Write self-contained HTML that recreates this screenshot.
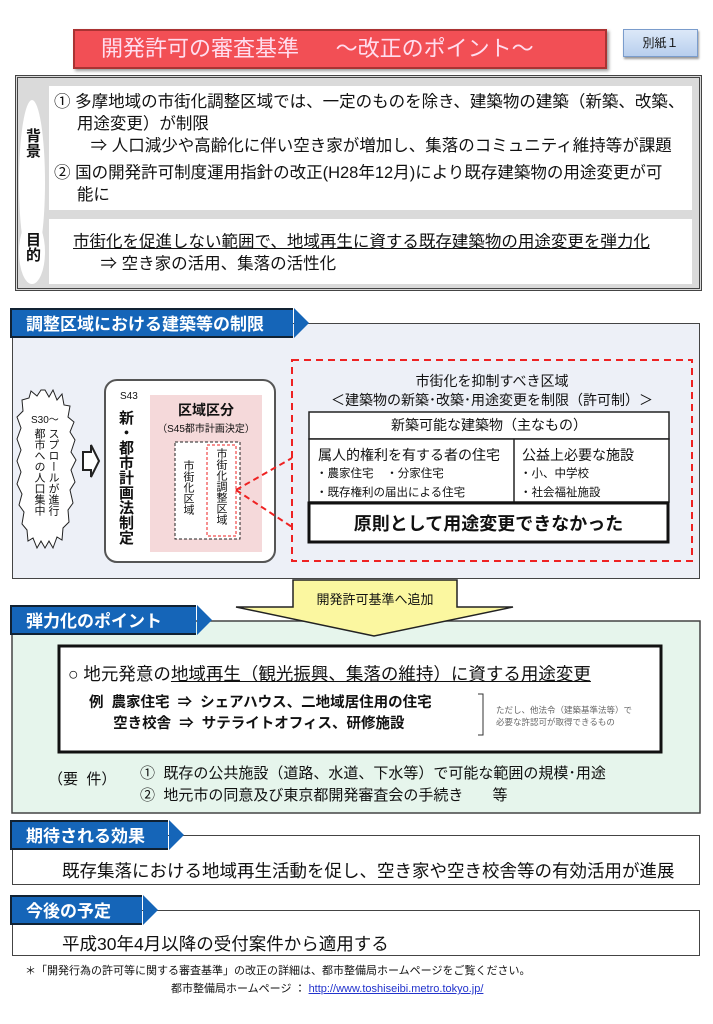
<!DOCTYPE html>
<html><head><meta charset="utf-8"><style>
*{margin:0;padding:0;box-sizing:border-box}
body{width:713px;height:1024px;background:#fff;position:relative;overflow:hidden;font-family:"Liberation Sans","Noto Sans CJK JP",sans-serif;color:#111}
.a{position:absolute;white-space:nowrap}
.v{writing-mode:vertical-rl;text-orientation:upright;white-space:normal}
.tab{position:absolute;left:10px;height:30px;background:#1565b8;color:#fff;font-weight:bold;font-size:17px;line-height:30px;padding-left:14px;border:2px solid #123;border-right:none}
.tab:after{content:"";position:absolute;right:-16px;top:-2px;border-left:15px solid #1565b8;border-top:15px solid transparent;border-bottom:15px solid transparent}
.box{position:absolute;left:12px;width:688px;border:1.5px solid #444}
</style></head><body>
<div class="a" style="left:73px;top:29px;width:534px;height:40px;background:#f24f55;border:2px solid #a33;box-shadow:2px 2px 3px #999;color:#fde;font-size:22px;line-height:36px;padding-left:26px">開発許可の審査基準&nbsp;&nbsp;&nbsp;&nbsp;&nbsp;&nbsp;〜改正のポイント〜</div>
<div class="a" style="left:623px;top:29px;width:75px;height:28px;background:linear-gradient(#dce8f8,#b8cfee);border:1px solid #7a9ccc;box-shadow:1px 2px 2px #999;font-size:12px;line-height:26px;text-align:center">別紙１</div>

<div class="a" style="left:15px;top:75px;width:687px;height:216px;background:#dadada;border:3px double #444"></div>
<div class="a" style="left:49px;top:86px;width:643px;height:124px;background:#fff"></div>
<div class="a" style="left:49px;top:219px;width:643px;height:65px;background:#fff"></div>
<div class="a" style="left:19px;top:100px;width:26px;height:165px;background:#fff;border-radius:50%"></div>
<div class="a" style="left:19px;top:220px;width:26px;height:64px;background:#fff;border-radius:50%"></div>
<div class="a v" style="left:22px;top:128px;font-size:15px;font-weight:bold">背景</div>
<div class="a v" style="left:22px;top:232px;font-size:15px;font-weight:bold">目的</div>
<div class="a" style="left:54px;top:91px;font-size:16.5px;line-height:22px">① 多摩地域の市街化調整区域では、一定のものを除き、建築物の建築（新築、改築、<br>&nbsp;&nbsp;&nbsp;&nbsp;&nbsp;用途変更）が制限<br>&nbsp;&nbsp;&nbsp;&nbsp;&nbsp;&nbsp;&nbsp;&nbsp;⇒ 人口減少や高齢化に伴い空き家が増加し、集落のコミュニティ維持等が課題</div>
<div class="a" style="left:54px;top:162px;font-size:16.5px;line-height:22px">② 国の開発許可制度運用指針の改正(H28年12月)により既存建築物の用途変更が可<br>&nbsp;&nbsp;&nbsp;&nbsp;&nbsp;能に</div>
<div class="a" style="left:73px;top:231px;font-size:16.5px;line-height:22px"><u>市街化を促進しない範囲で、地域再生に資する既存建築物の用途変更を弾力化</u><br>&nbsp;&nbsp;&nbsp;&nbsp;&nbsp;&nbsp;⇒ 空き家の活用、集落の活性化</div>

<div class="box" style="top:323px;height:256px;background:#edf0f7"></div>
<div class="tab" style="top:308px;width:283px">調整区域における建築等の制限</div>
<svg class="a" style="left:0;top:0" width="713" height="1024">
<path d="M45,390 L49,397 L53,390 L57,400 L62,394 L64,405 L70,406 L68,417 L74,422 L70,432 L75,440 L71,452 L76,460 L71,470 L75,482 L70,490 L73,503 L68,510 L69,522 L63,528 L62,540 L57,537 L53,548 L49,541 L45,548 L41,541 L37,548 L33,538 L28,541 L27,530 L22,524 L24,512 L19,505 L22,494 L17,484 L21,472 L17,461 L21,450 L17,439 L21,428 L17,417 L23,411 L22,400 L29,398 L31,391 L37,396 L41,390 Z" fill="#fff" stroke="#222" stroke-width="1"/>
<path d="M83,452 L91,452 L91,445 L99,461 L91,477 L91,470 L83,470 Z" fill="#fff" stroke="#222" stroke-width="2"/>
<rect x="105" y="380" width="170" height="182" rx="12" fill="#fff" stroke="#555" stroke-width="2"/>
<rect x="150" y="395" width="112" height="157" fill="#f5d9da"/>
<rect x="175" y="442" width="65" height="97" fill="#fff" stroke="#222" stroke-dasharray="3,2"/>
<rect x="207" y="445" width="29" height="91" fill="#fff" stroke="#e22" stroke-dasharray="3,2"/>
<path d="M236,490 L292,458 M236,490 L292,527" stroke="#e22" stroke-width="2" stroke-dasharray="6,4"/>
<rect x="292" y="360" width="400" height="201" fill="none" stroke="#e22" stroke-width="2" stroke-dasharray="7,5"/>
<rect x="309" y="412" width="360" height="27" fill="#fff" stroke="#222" stroke-width="1.5"/>
<rect x="309" y="439" width="360" height="63" fill="#fff" stroke="#222" stroke-width="1.5"/>
<line x1="514" y1="439" x2="514" y2="502" stroke="#222" stroke-width="1.5"/>
<rect x="309" y="503" width="359" height="39" fill="#fff" stroke="#111" stroke-width="3"/>
<rect x="12" y="621" width="688" height="192" fill="#e6f5ec" stroke="#444" stroke-width="1.5"/>
<path d="M293,580 L457,580 L457,607 L513,607 L374,636 L236,607 L293,607 Z" fill="#fbf7a0" stroke="#222" stroke-width="1.5"/>
<rect x="59" y="646" width="602" height="106" fill="#fff" stroke="#111" stroke-width="3"/>
<path d="M478,694 L483,694 L483,735 L478,735" fill="none" stroke="#333"/>
</svg>
<div class="a" style="left:31px;top:411px;font-size:10px">S30〜</div>
<div class="a v" style="left:30px;top:428px;height:90px;width:30px;font-size:11px;line-height:14px">スプロールが進行都市への人口集中</div>
<div class="a" style="left:120px;top:391px;font-size:10px">S43</div>
<div class="a v" style="left:117px;top:410px;height:150px;font-size:15px;font-weight:bold;line-height:16px">新・都市計画法制定</div>
<div class="a" style="left:150px;top:400px;width:112px;text-align:center;font-size:14px;font-weight:bold">区域区分</div>
<div class="a" style="left:150px;top:420px;width:112px;text-align:center;font-size:10px">（S45都市計画決定）</div>
<div class="a v" style="left:181px;top:460px;height:80px;font-size:11px;line-height:14px">市街化区域</div>
<div class="a v" style="left:214px;top:448px;height:90px;font-size:11px;line-height:14px">市街化調整区域</div>
<div class="a" style="left:292px;top:372px;width:400px;text-align:center;font-size:14px;line-height:19px">市街化を抑制すべき区域<br>＜建築物の新築･改築･用途変更を制限（許可制）＞</div>
<div class="a" style="left:309px;top:415px;width:360px;text-align:center;font-size:14px">新築可能な建築物（主なもの）</div>
<div class="a" style="left:318px;top:445px;font-size:14px">属人的権利を有する者の住宅</div>
<div class="a" style="left:316px;top:465px;font-size:11.5px;line-height:19px">・農家住宅&nbsp;&nbsp;&nbsp;&nbsp;・分家住宅<br>・既存権利の届出による住宅</div>
<div class="a" style="left:522px;top:445px;font-size:14px">公益上必要な施設</div>
<div class="a" style="left:520px;top:465px;font-size:11.5px;line-height:19px">・小、中学校<br>・社会福祉施設</div>
<div class="a" style="left:309px;top:510px;width:359px;text-align:center;font-size:18px;font-weight:bold">原則として用途変更できなかった</div>
<div class="a" style="left:293px;top:589px;width:164px;text-align:center;font-size:13px">開発許可基準へ追加</div>

<div class="tab" style="top:605px;width:186px">弾力化のポイント</div>
<div class="a" style="left:68px;top:661px;font-size:17.5px">○ 地元発意の<u>地域再生（観光振興、集落の維持）に資する用途変更</u></div>
<div class="a" style="left:89px;top:693px;font-size:14.5px;font-weight:bold;line-height:21px">例&nbsp;&nbsp;農家住宅&nbsp;&nbsp;⇒&nbsp;&nbsp;シェアハウス、二地域居住用の住宅<br>&nbsp;&nbsp;&nbsp;&nbsp;&nbsp;&nbsp;空き校舎&nbsp;&nbsp;⇒&nbsp;&nbsp;サテライトオフィス、研修施設</div>
<div class="a" style="left:496px;top:704px;font-size:8.5px;line-height:12px;color:#666">ただし、他法令（建築基準法等）で<br>必要な許認可が取得できるもの</div>
<div class="a" style="left:48px;top:768px;font-size:15px">（要&nbsp;&nbsp;件）</div>
<div class="a" style="left:140px;top:763px;font-size:15px;line-height:22px">①&nbsp;&nbsp;既存の公共施設（道路、水道、下水等）で可能な範囲の規模･用途<br>②&nbsp;&nbsp;地元市の同意及び東京都開発審査会の手続き&nbsp;&nbsp;&nbsp;&nbsp;&nbsp;&nbsp;&nbsp;等</div>

<div class="box" style="top:835px;height:50px;background:#fff"></div>
<div class="tab" style="top:820px;width:158px">期待される効果</div>
<div class="a" style="left:62px;top:858px;font-size:17.5px">既存集落における地域再生活動を促し、空き家や空き校舎等の有効活用が進展</div>
<div class="box" style="top:910px;height:46px;background:#fff"></div>
<div class="tab" style="top:895px;width:132px">今後の予定</div>
<div class="a" style="left:62px;top:931px;font-size:17.5px">平成30年4月以降の受付案件から適用する</div>
<div class="a" style="left:25px;top:962px;font-size:11px">＊「開発行為の許可等に関する審査基準」の改正の詳細は、都市整備局ホームページをご覧ください。</div>
<div class="a" style="left:171px;top:980px;font-size:11px">都市整備局ホームページ ： <u style="color:#23c">http://www.toshiseibi.metro.tokyo.jp/</u></div>
</body></html>
